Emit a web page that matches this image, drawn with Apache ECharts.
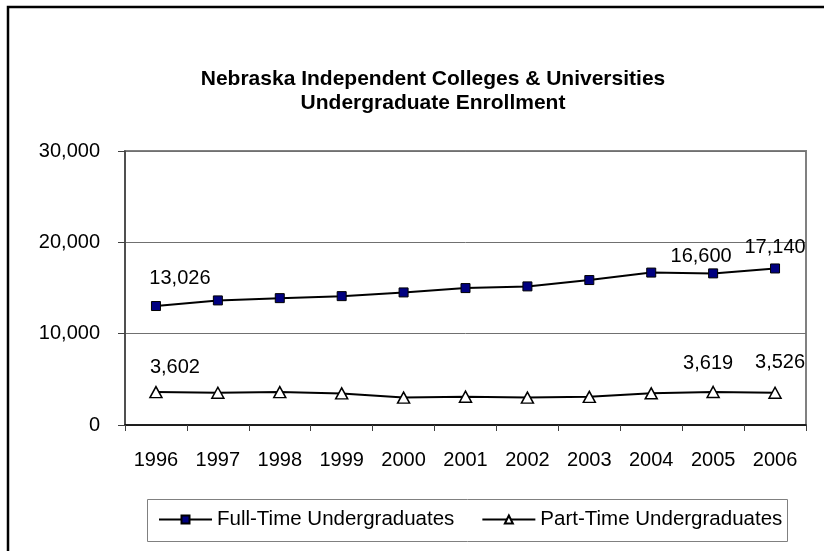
<!DOCTYPE html>
<html>
<head>
<meta charset="utf-8">
<script src="https://cdn.jsdelivr.net/npm/echarts@6/dist/echarts.min.js"></script>
<style>
  html, body { margin: 0; padding: 0; background: #fff; }
  #chart { width: 824px; height: 551px; }
</style>
</head>
<body>
<div id="chart"></div>
<script>
var years = ['1996', '1997', '1998', '1999', '2000', '2001', '2002', '2003', '2004', '2005', '2006']
var fullTime = [13026, 13640, 13890, 14110, 14515, 14990, 15175, 15870, 16690, 16600, 17140]
var partTime = [3602, 3530, 3600, 3460, 3000, 3100, 3000, 3080, 3470, 3619, 3526]
// which points carry a value label, and where it sits relative to the point
var fullLabels = {0: [24, -28], 9: [-12, -17], 10: [0, -21]}
var partLabels = {0: [19, -25], 9: [-5, -28], 10: [5, -30]}

var font = 'Liberation Sans, Arial, sans-serif'

function withLabels (values, labels) {
  return values.map(function (v, i) {
    if (!labels[i]) return v
    return {
      value: v,
      label: {
        show: true,
        position: 'inside',
        offset: labels[i],
        formatter: function (p) { return p.value.toLocaleString('en-US') },
        color: '#000',
        fontSize: 20,
        fontFamily: font
      }
    }
  })
}

var chart = echarts.init(document.getElementById('chart'))
chart.setOption({
  animation: false,
  backgroundColor: '#fff',
  title: {
    text: 'Nebraska Independent Colleges & Universities\nUndergraduate Enrollment',
    left: 428,
    top: 62,
    textAlign: 'center',
    textStyle: {
      fontFamily: font,
      fontWeight: 'bold',
      fontSize: 21,
      lineHeight: 24,
      color: '#000'
    }
  },
  graphic: [{
    type: 'rect',
    shape: {x: 8, y: 7, width: 900, height: 700},
    style: {fill: 'none', stroke: '#000', lineWidth: 2.5},
    z: 100
  }, {
    // legend frame
    type: 'rect',
    shape: {x: 147.5, y: 499.5, width: 640, height: 42},
    style: {fill: 'none', stroke: '#808080', lineWidth: 1},
    z: 100
  }],
  grid: {
    left: 125,
    right: 18,
    top: 151,
    bottom: 126,
    show: true,
    borderColor: '#808080',
    borderWidth: 2
  },
  legend: {
    left: 158,
    top: 509,
    padding: 0,
    itemWidth: 53,
    itemHeight: 10,
    itemGap: 27,
    textStyle: {fontFamily: font, fontSize: 20.5, color: '#000'},
    data: ['Full-Time Undergraduates', 'Part-Time Undergraduates']
  },
  xAxis: {
    type: 'category',
    data: years,
    boundaryGap: true,
    axisLine: {lineStyle: {color: '#000', width: 1.5}},
    axisTick: {show: true, length: 6, lineStyle: {color: '#404040'}},
    axisLabel: {margin: 25, color: '#000', fontSize: 20, fontFamily: font}
  },
  yAxis: {
    type: 'value',
    min: 0,
    max: 30000,
    interval: 10000,
    axisLine: {show: true, lineStyle: {color: '#404040', width: 1.5}},
    axisTick: {show: true, length: 7, lineStyle: {color: '#404040'}},
    axisLabel: {
      margin: 25,
      color: '#000',
      fontSize: 20,
      fontFamily: font,
      formatter: function (v) { return v.toLocaleString('en-US') }
    },
    splitLine: {lineStyle: {color: '#707070', width: 1}}
  },
  series: [{
    name: 'Full-Time Undergraduates',
    type: 'line',
    data: withLabels(fullTime, fullLabels),
    symbol: 'rect',
    symbolSize: 9,
    lineStyle: {color: '#000', width: 2},
    itemStyle: {color: '#000080', borderColor: '#000', borderWidth: 1}
  }, {
    name: 'Part-Time Undergraduates',
    type: 'line',
    data: withLabels(partTime, partLabels),
    symbol: 'triangle',
    symbolSize: [12, 11],
    lineStyle: {color: '#000', width: 2},
    itemStyle: {color: '#fff', borderColor: '#000', borderWidth: 1.5}
  }]
})
</script>
</body>
</html>
